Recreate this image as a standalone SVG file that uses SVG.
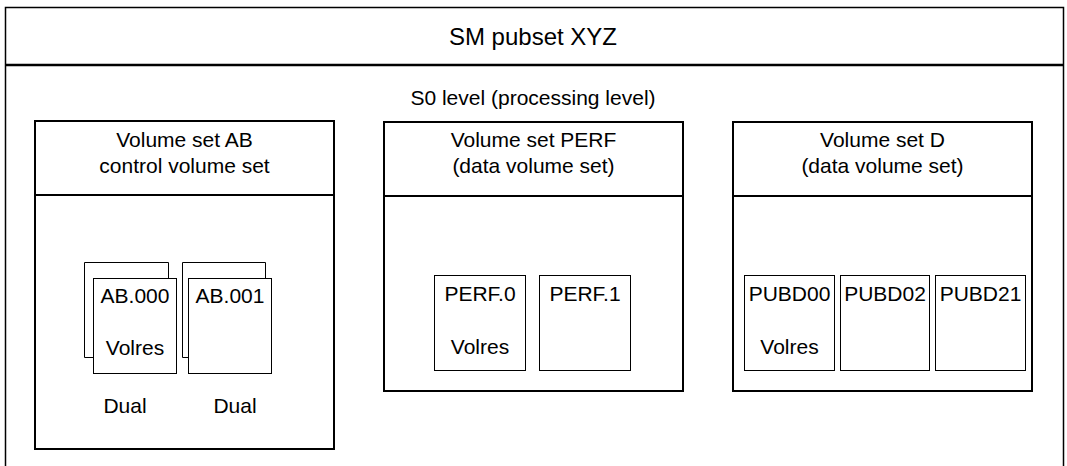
<svg xmlns="http://www.w3.org/2000/svg" width="1067" height="466" viewBox="0 0 1067 466">
<style>
  text { font-family: "Liberation Sans", Arial, sans-serif; fill: #000; text-anchor: middle; }
  .t { font-size: 24px; }
  .l { font-size: 21px; }
  .set { fill: #fff; stroke: #000; stroke-width: 2; }
  .div { stroke: #000; stroke-width: 2; }
  .disk { fill: #fff; stroke: #000; stroke-width: 1; }
  .back { fill: none; stroke: #000; stroke-width: 1; }
</style>
<rect width="1067" height="466" fill="#fff"/>
<g id="pubset">
  <path d="M5.5,466 V7.5 H1063.5 V466" fill="none" stroke="#000" stroke-width="1.5"/>
  <line x1="5" y1="65" x2="1064" y2="65" stroke="#000" stroke-width="2.5"/>
  <text class="t" x="533" y="45">SM pubset XYZ</text>
  <text class="l" x="533" y="105">S0 level (processing level)</text>
</g>
<g id="vs-ab">
  <rect class="set" x="35" y="121" width="299" height="328"/>
  <line class="div" x1="35" y1="195" x2="334" y2="195"/>
  <text class="l" x="184.5" y="147">Volume set AB</text>
  <text class="l" x="184.5" y="173">control volume set</text>
  <g id="ab000">
    <path class="back" d="M93,357.5 H84.5 V262.5 H168.5 V278"/>
    <rect class="disk" x="93.5" y="278.5" width="83" height="95"/>
    <text class="l" x="135" y="303">AB.000</text>
    <text class="l" x="135" y="355">Volres</text>
  </g>
  <g id="ab001">
    <path class="back" d="M188,357.5 H182.5 V262.5 H265.5 V278"/>
    <rect class="disk" x="188.5" y="278.5" width="83" height="95"/>
    <text class="l" x="230" y="303">AB.001</text>
  </g>
  <text class="l" x="125" y="413">Dual</text>
  <text class="l" x="235" y="413">Dual</text>
</g>
<g id="vs-perf">
  <rect class="set" x="384" y="122" width="299" height="269"/>
  <line class="div" x1="384" y1="196" x2="683" y2="196"/>
  <text class="l" x="533.5" y="147">Volume set PERF</text>
  <text class="l" x="533.5" y="173">(data volume set)</text>
  <g id="perf0">
    <rect class="disk" x="434.5" y="275.5" width="91" height="95"/>
    <text class="l" x="480" y="301">PERF.0</text>
    <text class="l" x="480" y="354">Volres</text>
  </g>
  <g id="perf1">
    <rect class="disk" x="539.5" y="275.5" width="91" height="95"/>
    <text class="l" x="585" y="301">PERF.1</text>
  </g>
</g>
<g id="vs-d">
  <rect class="set" x="733" y="122" width="299" height="269"/>
  <line class="div" x1="733" y1="196" x2="1032" y2="196"/>
  <text class="l" x="882.5" y="147">Volume set D</text>
  <text class="l" x="882.5" y="173">(data volume set)</text>
  <g id="pubd00">
    <rect class="disk" x="744.5" y="275.5" width="90" height="95"/>
    <text class="l" x="789.5" y="301">PUBD00</text>
    <text class="l" x="789.5" y="354">Volres</text>
  </g>
  <g id="pubd02">
    <rect class="disk" x="840.5" y="275.5" width="89" height="95"/>
    <text class="l" x="885" y="301">PUBD02</text>
  </g>
  <g id="pubd21">
    <rect class="disk" x="935.5" y="275.5" width="90" height="95"/>
    <text class="l" x="980.5" y="301">PUBD21</text>
  </g>
</g>
<g id="connectors"></g>
</svg>
